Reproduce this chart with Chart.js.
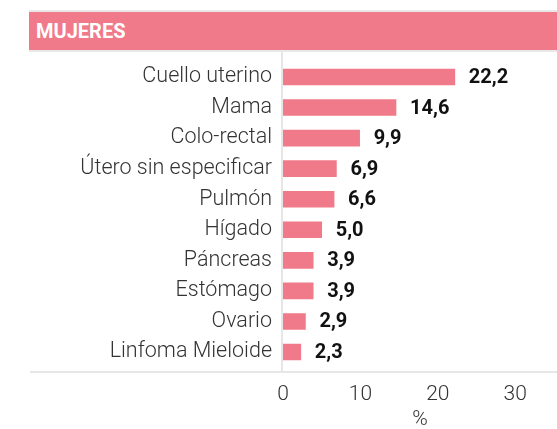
<!DOCTYPE html>
<html><head><meta charset="utf-8">
<script src="https://cdn.jsdelivr.net/npm/chart.js@4"></script>
<style>
html,body{margin:0;padding:0;background:#fff;overflow:hidden;}
#wrap{position:relative;width:557px;height:429px;}
#hdr{position:absolute;left:29px;top:10px;width:521px;height:38px;background:#F07A8A;border-top:2px solid #e8e8e8;border-bottom:2px solid #e8e8e8;color:#fff;font:bold 20px Roboto, sans-serif;line-height:38px;padding-left:7px;z-index:2;}
canvas{position:absolute;left:0;top:0;}
</style></head>
<body>
<div id="wrap">
<canvas id="c" width="557" height="429"></canvas>
<div id="hdr">MUJERES</div>
</div>
<script>
const categories = ['Cuello uterino','Mama','Colo-rectal','Útero sin especificar','Pulmón','Hígado','Páncreas','Estómago','Ovario','Linfoma Mieloide'];
const values = [22.2, 14.6, 9.9, 6.9, 6.6, 5.0, 3.9, 3.9, 2.9, 2.3];
const xTicks = [0, 10, 20, 30];
const axisTitle = '%';

const barColor = '#F07A8A';
const lineColor = '#e6e6e6';
const textColor = '#333333';

const decor = {
  id: 'decor',
  beforeDatasetsDraw(chart) {
    const {ctx, chartArea: a, scales: {x}} = chart;
    ctx.save();
    ctx.fillStyle = lineColor;
    const x0 = x.getPixelForValue(0);
    ctx.fillRect(x0 - 2, 52, 2, a.bottom + 5 - 52);
    ctx.fillRect(30, a.bottom + 3.7, chart.width - 30, 2);
    ctx.restore();
  },
  afterDatasetsDraw(chart) {
    const {ctx} = chart;
    const meta = chart.getDatasetMeta(0);
    ctx.save();
    ctx.font = 'bold 20px Roboto, sans-serif';
    ctx.fillStyle = '#111111';
    ctx.textBaseline = 'middle';
    ctx.textAlign = 'left';
    meta.data.forEach((bar, i) => {
      const v = chart.data.datasets[0].data[i];
      ctx.fillText(v.toFixed(1).replace('.', ','), bar.x + 14, bar.y + 1);
    });
    ctx.restore();
  }
};

new Chart(document.getElementById('c'), {
  type: 'bar',
  data: {
    labels: categories,
    datasets: [{
      data: values,
      backgroundColor: barColor,
      borderWidth: 0,
      barThickness: 16
    }]
  },
  options: {
    indexAxis: 'y',
    responsive: false,
    animation: false,
    devicePixelRatio: 1,
    layout: {padding: {top: 61.7, left: 0, right: 0, bottom: 0}},
    plugins: {legend: {display: false}, tooltip: {enabled: false}},
    scales: {
      x: {
        type: 'linear',
        min: 0,
        max: 35.4,
        afterBuildTicks: s => { s.ticks = xTicks.map(v => ({value: v})); },
        grid: {display: false, drawTicks: false},
        border: {display: false},
        ticks: {
          color: textColor,
          font: {family: 'Roboto', size: 21, weight: 300, lineHeight: 1},
          padding: 17.2,
          maxRotation: 0
        },
        title: {
          display: true,
          text: axisTitle,
          color: textColor,
          font: {family: 'Roboto', size: 21, weight: 300, lineHeight: 1},
          padding: {top: -13.7, bottom: -1}
        }
      },
      y: {
        grid: {display: false, drawTicks: false},
        border: {display: false},
        afterFit: s => { s.width = 283; },
        ticks: {
          color: textColor,
          font: {family: 'Roboto', size: 21.5, weight: 300},
          padding: 11
        }
      }
    }
  },
  plugins: [decor]
});
</script>
</body></html>
